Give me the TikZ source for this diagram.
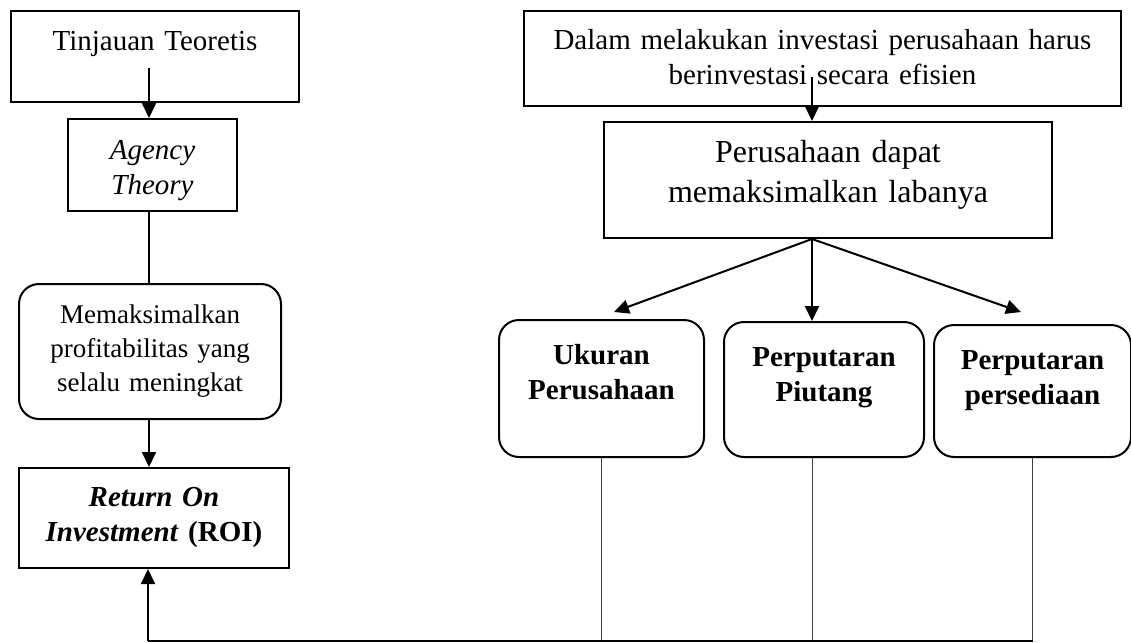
\documentclass[tikz,border=0pt]{standalone}
\usepackage{fontspec}
\setmainfont{Liberation Serif}
\usetikzlibrary{arrows.meta}

\begin{document}
\begin{tikzpicture}[x=0.5pt,y=-0.5pt,
  box_style/.style={draw=black,line width=1pt,align=center,inner sep=0pt,anchor=north west,font=\fontsize{14.5}{17.5}\selectfont},
  round_style/.style={box_style,rounded corners=10pt},
  bold_style/.style={round_style,font=\fontsize{14.5}{17.5}\selectfont\bfseries},
  arrow_style/.style={draw=black,line width=1pt,-{Triangle[length=7.5pt,width=7pt]}},
  line_style/.style={draw=black,line width=1pt},
  thin_style/.style={draw=black!75,line width=0.5pt}]
\useasboundingbox (0,0) rectangle (1131,643);
% left column
\node[box_style,text width=144pt,text height=19.5pt,text depth=26pt] (tinjauan) at (10,10) {Tinjauan Teoretis};
\node[box_style,text width=84.5pt,text height=20pt,text depth=26pt] (agency) at (67,118) {\textit{Agency}\\\textit{Theory}};
\node[round_style,text width=131pt,text height=19.5pt,text depth=48pt,font=\fontsize{13.5}{17}\selectfont] (memaks) at (18,283) {Memaksimalkan\\profitabilitas yang\\selalu meningkat};
\node[box_style,text width=135pt,text height=19pt,text depth=31pt] (roi) at (18,467) {\textbf{\textit{Return On}}\\\textbf{\textit{Investment}} \textbf{(ROI)}};
% right column
\node[box_style,text width=298.5pt,text height=19pt,text depth=28.5pt] (dalam) at (523,10) {Dalam melakukan investasi perusahaan harus\\berinvestasi secara efisien};
\node[box_style,text width=224pt,text height=20pt,text depth=38pt,font=\fontsize{16}{20}\selectfont] (laba) at (603,121) {Perusahaan dapat\\memaksimalkan labanya};
\node[bold_style,text width=102.5pt,text height=22pt,text depth=46.5pt] (ukuran) at (498,319) {Ukuran\\Perusahaan};
\node[bold_style,text width=100pt,text height=22pt,text depth=45.5pt] (piutang) at (723,321) {Perputaran\\Piutang};
\node[bold_style,text width=98.5pt,text height=22pt,text depth=44pt] (sedia) at (933,324) {Perputaran\\persediaan};
% connectors
\coordinate (tin_s) at (149,68);
\coordinate (dal_s) at (812,77);
\coordinate (fan) at (dal_s |- laba.south);
\coordinate (base) at (148,641);
\draw[arrow_style] (tin_s) -- (tin_s |- agency.north);
\draw[line_style] (tin_s |- agency.south) -- (tin_s |- memaks.north);
\draw[arrow_style] (tin_s |- memaks.south) -- (tin_s |- roi.north);
\draw[arrow_style] (dal_s) -- (dal_s |- laba.north);
\draw[arrow_style] (fan) -- ([xshift=6.25pt,yshift=3.5pt]ukuran.north);
\draw[arrow_style] (fan) -- (fan |- piutang.north);
\draw[arrow_style] (fan) -- ([xshift=-5.75pt,yshift=6pt]sedia.north);
\draw[thin_style] (ukuran.south) -- (ukuran.south |- base);
\draw[thin_style] (fan |- piutang.south) -- (fan |- base);
\draw[thin_style] (sedia.south) -- (sedia.south |- base);
\draw[line_style,line width=0.75pt] (base) -- (sedia.south |- base);
\draw[arrow_style] (base) -- (base |- roi.south);
\end{tikzpicture}
\end{document}
